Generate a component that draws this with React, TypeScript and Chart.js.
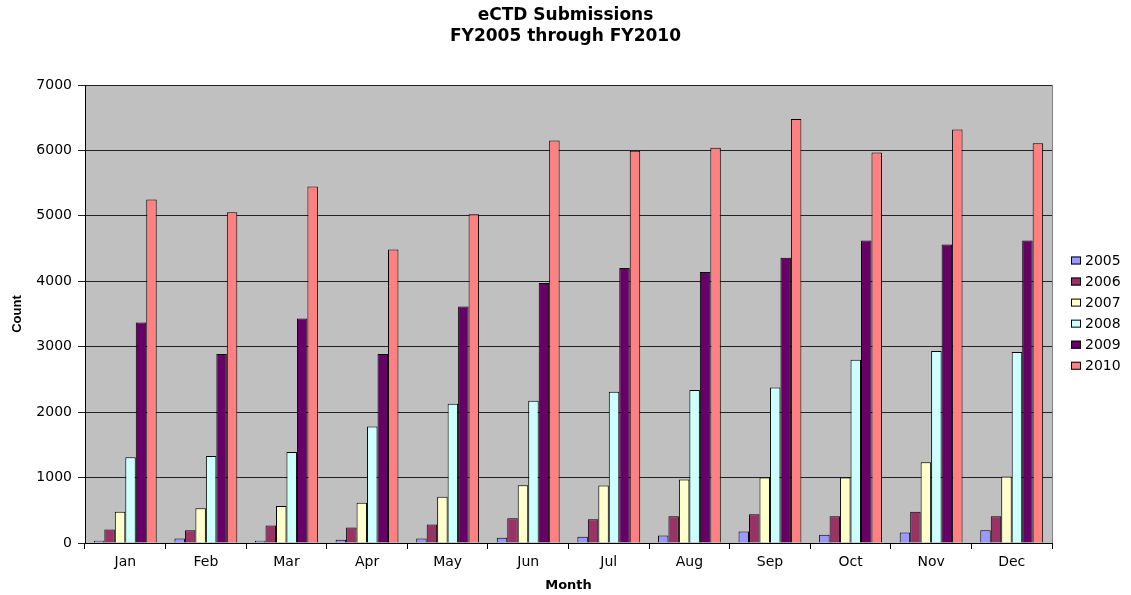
import React, { useEffect, useRef } from "react";
import { Chart, registerables } from "chart.js";

Chart.register(...registerables);

const months = ["Jan", "Feb", "Mar", "Apr", "May", "Jun", "Jul", "Aug", "Sep", "Oct", "Nov", "Dec"];
const seriesLabels = ["2005", "2006", "2007", "2008", "2009", "2010"];
const y2005 = [36, 67, 36, 51, 67, 82, 97, 113, 174, 128, 159, 195];
const y2006 = [205, 195, 267, 236, 282, 380, 364, 410, 441, 410, 477, 410];
const y2007 = [477, 533, 564, 615, 708, 882, 877, 970, 1000, 1000, 1236, 1015];
const y2008 = [1310, 1330, 1390, 1782, 2127, 2173, 2310, 2340, 2376, 2800, 2935, 2920];
const y2009 = [3370, 2890, 3430, 2890, 3614, 3975, 4203, 4142, 4360, 4624, 4563, 4624];
const y2010 = [5250, 5056, 5447, 4487, 5025, 6150, 5995, 6040, 6480, 5970, 6320, 6110];
const seriesColors = ["#9999FF", "#993366", "#FFFFCC", "#CCFFFF", "#660066", "#FF8080"];
const yTicks = [0, 1000, 2000, 3000, 4000, 5000, 6000, 7000];

const WIDE = "'DejaVu Sans', Verdana, sans-serif";
const ARIAL = "'Liberation Sans', Arial, sans-serif";

const plotBg = {
  id: "plotBg",
  beforeDraw(chart: any) {
    const { ctx, chartArea } = chart;
    ctx.save();
    ctx.fillStyle = "#C0C0C0";
    ctx.fillRect(chartArea.left, chartArea.top, chartArea.right - chartArea.left, chartArea.bottom - chartArea.top);
    ctx.strokeStyle = "#808080";
    ctx.lineWidth = 1;
    ctx.beginPath();
    ctx.moveTo(chartArea.right + 0.5, chartArea.top);
    ctx.lineTo(chartArea.right + 0.5, chartArea.bottom);
    ctx.stroke();
    ctx.restore();
  },
};

const sideLegend = {
  id: "sideLegend",
  afterDraw(chart: any) {
    const { ctx } = chart;
    const ds = chart.data.datasets;
    ctx.save();
    ctx.font = `14px ${WIDE}`;
    ctx.textBaseline = "middle";
    ctx.textAlign = "left";
    ds.forEach((d: any, i: number) => {
      const cy = 260.5 + i * 21.05;
      ctx.fillStyle = d.backgroundColor;
      ctx.fillRect(1071, cy - 4, 10, 8);
      ctx.strokeStyle = "#000";
      ctx.lineWidth = 1;
      ctx.strokeRect(1071.5, cy - 3.5, 9, 7);
      ctx.fillStyle = "#000";
      ctx.fillText(d.label, 1085, cy + 0.5);
    });
    ctx.restore();
  },
};

export default function App() {
  const ref = useRef<HTMLCanvasElement>(null);
  useEffect(() => {
    document.body.style.margin = "0";
    const values = [y2005, y2006, y2007, y2008, y2009, y2010];
    const chart = new Chart(ref.current!, {
      type: "bar",
      data: {
        labels: months,
        datasets: seriesLabels.map((l, i) => ({
          label: l,
          data: values[i],
          backgroundColor: seriesColors[i],
          borderColor: "#000",
          borderWidth: 1,
          categoryPercentage: 0.78,
          barPercentage: 1.0,
          yAxisID: "y",
        })),
      },
      options: {
        animation: false,
        responsive: false,
        layout: { padding: { left: 0, right: 0, top: 0, bottom: 0 } },
        plugins: {
          legend: { display: false },
          tooltip: { enabled: false },
          title: {
            display: true,
            text: ["eCTD Submissions", "FY2005 through FY2010"],
            color: "#000",
            font: { family: WIDE, size: 17, weight: "bold", lineHeight: 1.25 },
            padding: { top: 5, bottom: 37.5 },
          },
        },
        scales: {
          x: {
            grid: { drawOnChartArea: false, drawTicks: true, tickLength: 6, color: "#000", offset: true },
            border: { color: "#000" },
            ticks: { color: "#000", font: { family: WIDE, size: 14 }, padding: 5 },
            title: {
              display: true,
              text: "Month",
              color: "#000",
              font: { family: WIDE, size: 13, weight: "bold" },
              padding: { top: 0, bottom: 2 },
            },
            afterFit: (axis: any) => {
              axis.height = 52;
            },
          },
          y: {
            min: 0,
            max: 7000,
            afterBuildTicks: (axis: any) => {
              axis.ticks = yTicks.map((v) => ({ value: v }));
            },
            grid: { color: "#222", tickLength: 7, drawTicks: true },
            border: { color: "#000" },
            ticks: {
              color: "#000",
              font: { family: WIDE, size: 14 },
              padding: 6,
              callback: (v: any) => String(v),
            },
            title: {
              display: true,
              text: "Count",
              color: "#000",
              font: { family: ARIAL, size: 13, weight: "bold" },
              padding: { top: 10, bottom: 0 },
            },
            afterFit: (axis: any) => {
              axis.width = 85;
            },
          },
          yr: {
            type: "linear",
            position: "right",
            display: true,
            grid: { display: false, drawTicks: false },
            border: { display: false },
            ticks: { display: false },
            afterFit: (axis: any) => {
              axis.width = 79;
            },
          },
        },
      },
      plugins: [plotBg, sideLegend],
    });
    return () => chart.destroy();
  }, []);
  return (
    <div style={{ width: 1131, height: 595 }}>
      <canvas ref={ref} width={1131} height={595} style={{ display: "block" }} />
    </div>
  );
}
